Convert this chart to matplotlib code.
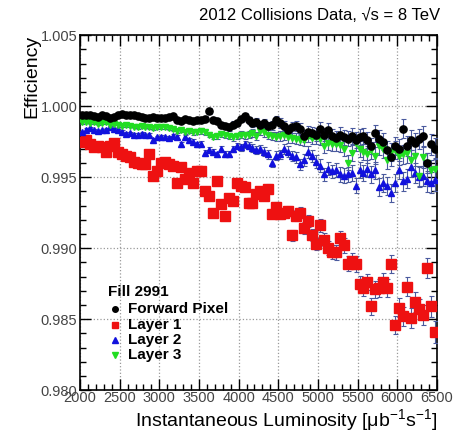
import numpy as np
import matplotlib.pyplot as plt
from matplotlib.ticker import MultipleLocator

plt.rcParams['font.family'] = ['Liberation Sans', 'DejaVu Sans']
plt.rcParams['mathtext.fontset'] = 'custom'
plt.rcParams['mathtext.rm'] = 'Liberation Sans'
plt.rcParams['mathtext.it'] = 'Liberation Sans'

# Luminosity bin centres
lumi = [2025, 2075, 2125, 2175, 2225, 2275, 2325, 2375, 2425, 2475,
        2525, 2575, 2625, 2675, 2725, 2775, 2825, 2875, 2925, 2975,
        3025, 3075, 3125, 3175, 3225, 3275, 3325, 3375, 3425, 3475,
        3525, 3575, 3625, 3675, 3725, 3775, 3825, 3875, 3925, 3975,
        4025, 4075, 4125, 4175, 4225, 4275, 4325, 4375, 4425, 4475,
        4525, 4575, 4625, 4675, 4725, 4775, 4825, 4875, 4925, 4975,
        5025, 5075, 5125, 5175, 5225, 5275, 5325, 5375, 5425, 5475,
        5525, 5575, 5625, 5675, 5725, 5775, 5825, 5875, 5925, 5975,
        6025, 6075, 6125, 6175, 6225, 6275, 6325, 6375, 6425, 6475]

fpix = [0.99935, 0.99938, 0.99935, 0.99932, 0.99925, 0.99935, 0.99930, 0.99920, 0.99925, 0.99935,
        0.99948, 0.99935, 0.99940, 0.99935, 0.99930, 0.99925, 0.99920, 0.99918, 0.99922, 0.99918,
        0.99920, 0.99915, 0.99925, 0.99930, 0.99905, 0.99895, 0.99910, 0.99900, 0.99895, 0.99900,
        0.99900, 0.99910, 0.99965, 0.99905, 0.99895, 0.99870, 0.99860, 0.99850, 0.99870, 0.99880,
        0.99910, 0.99930, 0.99900, 0.99880, 0.99890, 0.99870, 0.99880, 0.99860, 0.99865, 0.99900,
        0.99880, 0.99860, 0.99830, 0.99850, 0.99860, 0.99840, 0.99790, 0.99820, 0.99810, 0.99800,
        0.99840, 0.99800, 0.99830, 0.99790, 0.99775, 0.99800, 0.99780, 0.99770, 0.99790, 0.99760,
        0.99785, 0.99790, 0.99760, 0.99720, 0.99810, 0.99770, 0.99750, 0.99690, 0.99640, 0.99720,
        0.99700, 0.99840, 0.99720, 0.99760, 0.99740, 0.99770, 0.99790, 0.99600, 0.99730, 0.99700]

layer1 = [0.9975, 0.9976, 0.9973, 0.9971, 0.9972, 0.9971, 0.9968, 0.9972, 0.9974, 0.9968,
          0.9966, 0.9965, 0.9964, 0.9961, 0.9960, 0.9959, 0.9959, 0.9966, 0.9951, 0.9954,
          0.9960, 0.9961, 0.9959, 0.9958, 0.9946, 0.9957, 0.9949, 0.9953, 0.9946, 0.9954,
          0.9954, 0.9940, 0.9937, 0.9925, 0.9947, 0.9931, 0.9923, 0.9935, 0.9933, 0.9946,
          0.9944, 0.9943, 0.9932, 0.9932, 0.9938, 0.9940, 0.9937, 0.9942, 0.9924, 0.9929,
          0.9924, 0.9925, 0.9926, 0.9909, 0.9923, 0.9925, 0.9914, 0.9919, 0.9909, 0.9903,
          0.9916, 0.9906, 0.9900, 0.9897, 0.9897, 0.9907, 0.9902, 0.9889, 0.9891, 0.9889,
          0.9875, 0.9872, 0.9876, 0.9859, 0.9871, 0.9872, 0.9876, 0.9872, 0.9889, 0.9846,
          0.9858, 0.9852, 0.9873, 0.9851, 0.9862, 0.9857, 0.9853, 0.9886, 0.9859, 0.9841]

layer2 = [0.99820, 0.99835, 0.99846, 0.99830, 0.99825, 0.99830, 0.99835, 0.99850, 0.99840, 0.99830,
          0.99820, 0.99805, 0.99810, 0.99800, 0.99800, 0.99805, 0.99795, 0.99800, 0.99765, 0.99780,
          0.99785, 0.99780, 0.99775, 0.99790, 0.99785, 0.99730, 0.99780, 0.99760, 0.99750, 0.99730,
          0.99735, 0.99670, 0.99690, 0.99680, 0.99660, 0.99700, 0.99660, 0.99665, 0.99700, 0.99720,
          0.99710, 0.99730, 0.99720, 0.99705, 0.99690, 0.99700, 0.99680, 0.99660, 0.99600, 0.99650,
          0.99660, 0.99700, 0.99680, 0.99650, 0.99640, 0.99590, 0.99620, 0.99680, 0.99650, 0.99610,
          0.99580, 0.99520, 0.99560, 0.99540, 0.99550, 0.99520, 0.99510, 0.99520, 0.99530, 0.99440,
          0.99550, 0.99530, 0.99560, 0.99520, 0.99550, 0.99430, 0.99460, 0.99440, 0.99390, 0.99460,
          0.99550, 0.99470, 0.99490, 0.99570, 0.99530, 0.99500, 0.99510, 0.99470, 0.99460, 0.99480]

layer3 = [0.99885, 0.99890, 0.99880, 0.99885, 0.99875, 0.99880, 0.99885, 0.99870, 0.99875, 0.99865,
          0.99860, 0.99865, 0.99860, 0.99855, 0.99850, 0.99860, 0.99855, 0.99850, 0.99845, 0.99850,
          0.99855, 0.99850, 0.99845, 0.99840, 0.99825, 0.99830, 0.99820, 0.99825, 0.99815, 0.99820,
          0.99825, 0.99815, 0.99800, 0.99785, 0.99790, 0.99805, 0.99795, 0.99790, 0.99780, 0.99790,
          0.99800, 0.99795, 0.99800, 0.99810, 0.99790, 0.99825, 0.99815, 0.99800, 0.99790, 0.99785,
          0.99790, 0.99795, 0.99780, 0.99775, 0.99770, 0.99765, 0.99760, 0.99790, 0.99775, 0.99780,
          0.99770, 0.99720, 0.99740, 0.99730, 0.99735, 0.99725, 0.99700, 0.99600, 0.99670, 0.99740,
          0.99700, 0.99680, 0.99660, 0.99690, 0.99650, 0.99720, 0.99700, 0.99620, 0.99680, 0.99690,
          0.99650, 0.99660, 0.99670, 0.99620, 0.99650, 0.99510, 0.99640, 0.99600, 0.99550, 0.99560]

# statistical uncertainty per bin (half width)
stat_err = [0.00008, 0.00008, 0.00008, 0.00008, 0.00008, 0.00009, 0.00009, 0.00009, 0.00009, 0.00009,
            0.00010, 0.00010, 0.00010, 0.00011, 0.00011, 0.00011, 0.00012, 0.00012, 0.00012, 0.00012,
            0.00013, 0.00013, 0.00013, 0.00014, 0.00014, 0.00015, 0.00015, 0.00016, 0.00016, 0.00017,
            0.00018, 0.00018, 0.00019, 0.00019, 0.00020, 0.00020, 0.00021, 0.00022, 0.00022, 0.00023,
            0.00024, 0.00025, 0.00025, 0.00026, 0.00027, 0.00028, 0.00029, 0.00030, 0.00031, 0.00032,
            0.00034, 0.00035, 0.00036, 0.00037, 0.00038, 0.00040, 0.00041, 0.00042, 0.00043, 0.00045,
            0.00046, 0.00047, 0.00048, 0.00049, 0.00050, 0.00051, 0.00052, 0.00053, 0.00054, 0.00055,
            0.00056, 0.00057, 0.00058, 0.00059, 0.00060, 0.00061, 0.00062, 0.00063, 0.00064, 0.00065,
            0.00066, 0.00067, 0.00068, 0.00069, 0.00070, 0.00071, 0.00072, 0.00073, 0.00074, 0.00075]

fig = plt.figure(figsize=(4.55, 4.34), dpi=100)
ax = fig.add_axes([0.176, 0.101, 0.784, 0.818])

ecol = '#4a5a9e'
series = [
    (layer1, 's', '#ee1111', 6.5),
    (layer2, '^', '#1111dd', 5.0),
    (layer3, 'v', '#22dd22', 5.0),
    (fpix, 'o', 'black', 5.2),
]
for vals, mk, col, ms in series:
    ax.errorbar(lumi, vals, yerr=stat_err, fmt=mk, color=col, ms=ms, mec=col,
                ecolor=ecol, elinewidth=0.8, capsize=1.8, capthick=0.8, zorder=3)

ax.set_xlim(2000, 6500)
ax.set_ylim(0.980, 1.005)
ax.xaxis.set_major_locator(MultipleLocator(500))
ax.xaxis.set_minor_locator(MultipleLocator(100))
ax.yaxis.set_major_locator(MultipleLocator(0.005))
ax.yaxis.set_minor_locator(MultipleLocator(0.001))
ax.yaxis.set_major_formatter(plt.FormatStrFormatter('%.3f'))
ax.tick_params(which='both', direction='in', top=True, right=True, labelsize=10.5,
               labelcolor='#444444', width=1)
ax.tick_params(which='major', length=8, pad=2)
ax.tick_params(axis='x', which='major', pad=0.5)
ax.tick_params(which='minor', length=4)
ax.grid(True, which='major', linestyle=':', color='#999999', linewidth=0.9)
for s in ax.spines.values():
    s.set_linewidth(1.2)

ax.set_xlabel(r'Instantaneous Luminosity [$\mu$b$^{-1}$s$^{-1}$]', fontsize=14,
              ha='right', va='top')
ax.xaxis.set_label_coords(1.0, -0.047)
ax.set_ylabel('Efficiency', fontsize=14, ha='right', va='center')
ax.yaxis.set_label_coords(-0.135, 1.0)

fig.text(0.967, 0.965, '2012 Collisions Data, \u221as = 8 TeV', ha='right', va='center',
         fontsize=12)

# legend
ax.text(2355, 0.9869, 'Fill 2991', fontsize=11, fontweight='bold', va='center')
leg_y = [0.98575, 0.98460, 0.98350, 0.98245]
leg_lab = ['Forward Pixel', 'Layer 1', 'Layer 2', 'Layer 3']
leg_mk = [('o', 'black', 4), ('s', '#ee1111', 4.5), ('^', '#1111dd', 4), ('v', '#22dd22', 4)]
for yy, lab, (mk, col, ms) in zip(leg_y, leg_lab, leg_mk):
    ax.plot([2440], [yy], marker=mk, color=col, ms=ms, ls='none', zorder=4)
    ax.text(2610, yy, lab, fontsize=11, fontweight='bold', va='center')

fig.savefig('out.png', dpi=100)
